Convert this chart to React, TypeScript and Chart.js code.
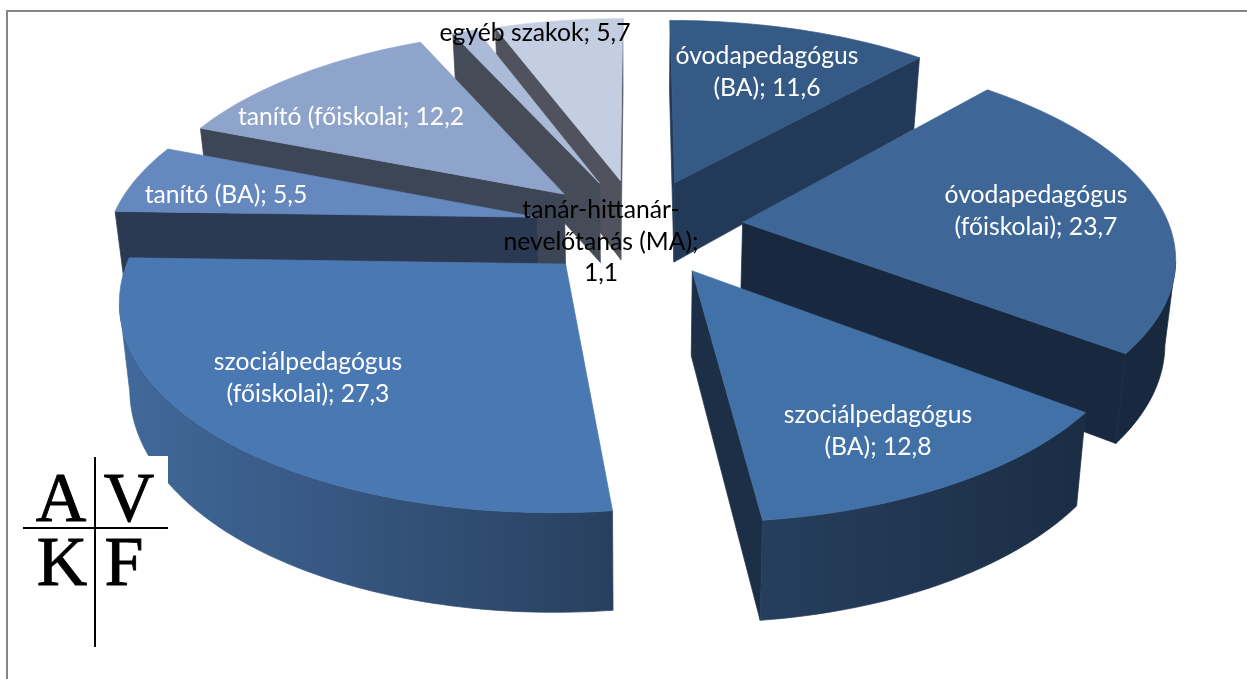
import React, { useEffect, useRef } from "react";
import { Chart, registerables } from "chart.js";

Chart.register(...registerables);

const categories = [
  "óvodapedagógus (BA)",
  "óvodapedagógus (főiskolai)",
  "szociálpedagógus (BA)",
  "szociálpedagógus (főiskolai)",
  "tanító (BA)",
  "tanító (főiskolai",
  "tanár-hittanár-nevelőtanás (MA)",
  "egyéb szakok",
];
const shares = [11.6, 23.7, 12.8, 27.3, 5.5, 12.2, 1.1, 5.7];
const labelLines = [
  ["óvodapedagógus", "(BA); 11,6"],
  ["óvodapedagógus", "(főiskolai); 23,7"],
  ["szociálpedagógus", "(BA); 12,8"],
  ["szociálpedagógus", "(főiskolai); 27,3"],
  ["tanító (BA); 5,5"],
  ["tanító (főiskolai; 12,2"],
  ["tanár-hittanár-", "nevelőtanás (MA);", "1,1"],
  ["egyéb szakok; 5,7"],
];
const labelCentres = [
  [767, 72], [1036, 211], [878, 431], [308, 378], [226, 195], [351, 117], [601, 242], [535, 33],
];
const labelColours = ["#fff", "#fff", "#fff", "#fff", "#fff", "#fff", "#000", "#000"];
const topColours = ["#355a86", "#3e6797", "#4271a7", "#4a78b3", "#6589be", "#8fa4cb", "#abbbd7", "#c4cee2"];
const faceColours = ["#223a58", "#18283f", "#1c2f47", "#2b4567", "#2b3a52", "#3d4656", "#454c57", "#50525e"];
const wallLeft = ["#223a58", "#18283f", "#263e5d", "#41699b", "#2b3a52", "#3d4656", "#454c57", "#50525e"];
const wallRight = ["#223a58", "#18283f", "#1b2d45", "#28405f", "#2b3a52", "#3d4656", "#454c57", "#50525e"];

const TILT = 0.466;
const PERSPECTIVE = 0.15;
const DEPTH = 82;
const CONVERGE = 0.02;
const RADIUS = 427;
const EXPLODE = 105;

const pie3d = {
  id: "pie3d",
  beforeDatasetsDraw(chart: any) {
    const ctx = chart.ctx;
    const meta = chart.getDatasetMeta(0);
    const project = (cx: number, cy: number, dx: number, dy: number, z: number) => {
      const s = 1 / (1 - (PERSPECTIVE * dy) / RADIUS);
      return [cx + dx * s * (1 - CONVERGE * z), cy + dy * TILT * s + z * DEPTH * s];
    };
    const order = meta.data
      .map((arc: any, i: number) => ({ arc, i }))
      .sort((a: any, b: any) => {
        const m = (e: any) => Math.sin((e.arc.startAngle + e.arc.endAngle) / 2);
        return m(a) - m(b);
      });
    for (const { arc, i } of order) {
      const { x, y, startAngle, endAngle, outerRadius } = arc.getProps(["x", "y", "startAngle", "endAngle", "outerRadius"], true);
      const mid = (startAngle + endAngle) / 2;
      const off = arc.options.offset;
      const ox = Math.cos(mid) * off;
      const oy = Math.sin(mid) * off;
      const steps = Math.max(4, Math.ceil((endAngle - startAngle) / 0.02));
      const rim: number[][] = [];
      for (let k = 0; k <= steps; k++) {
        const a = startAngle + ((endAngle - startAngle) * k) / steps;
        rim.push([ox + Math.cos(a) * outerRadius, oy + Math.sin(a) * outerRadius]);
      }
      const P = (p: number[], z: number) => project(x, y, p[0], p[1], z);
      const apex = [ox, oy];
      const fillPoly = (pts: number[][], style: any) => {
        ctx.beginPath();
        pts.forEach((p, n) => (n ? ctx.lineTo(p[0], p[1]) : ctx.moveTo(p[0], p[1])));
        ctx.closePath();
        ctx.fillStyle = style;
        ctx.fill();
        ctx.strokeStyle = style;
        ctx.lineWidth = 0.7;
        ctx.stroke();
      };
      const face = (a: number[], b: number[]) => {
        if (P(b, 0)[0] < P(a, 0)[0]) fillPoly([P(a, 0), P(b, 0), P(b, 1), P(a, 1)], faceColours[i]);
      };
      face(apex, rim[0]);
      face(rim[rim.length - 1], apex);
      const gx = rim.map((p) => P(p, 0)[0]);
      const grad = ctx.createLinearGradient(Math.min(...gx), 0, Math.max(...gx), 0);
      grad.addColorStop(0, wallLeft[i]);
      grad.addColorStop(1, wallRight[i]);
      let run: number[][] = [];
      const flush = () => {
        if (run.length > 1) {
          fillPoly([...run.map((p) => P(p, 0)), ...run.slice().reverse().map((p) => P(p, 1))], grad);
        }
        run = [];
      };
      for (let k = 0; k < rim.length - 1; k++) {
        if (P(rim[k + 1], 0)[0] < P(rim[k], 0)[0]) {
          if (!run.length) run.push(rim[k]);
          run.push(rim[k + 1]);
        } else flush();
      }
      flush();
      fillPoly([P(apex, 0), ...rim.map((p) => P(p, 0))], arc.options.backgroundColor);
    }
    return false;
  },
  afterDraw(chart: any) {
    const ctx = chart.ctx;
    ctx.save();
    // frame
    ctx.fillStyle = "#868686";
    ctx.fillRect(6, 10, 1241, 2);
    ctx.fillRect(6, 10, 2, 669);
    // labels
    ctx.font = "24.7px Lato";
    ctx.textAlign = "center";
    ctx.textBaseline = "middle";
    labelLines.forEach((lines, i) => {
      ctx.fillStyle = labelColours[i];
      const [lx, ly] = labelCentres[i];
      lines.forEach((t, n) => ctx.fillText(t, lx, ly + (n - (lines.length - 1) / 2) * 31.5));
    });
    // logo
    ctx.fillStyle = "#fff";
    ctx.fillRect(8, 456, 160, 195);
    ctx.fillStyle = "#000";
    ctx.strokeStyle = "#000";
    ctx.lineWidth = 0.9;
    ctx.font = '70px "Liberation Serif"';
    ctx.textBaseline = "alphabetic";
    const logo: [string, number, number][] = [["A", 61, 521], ["V", 129, 521], ["K", 62, 585], ["F", 124, 585]];
    logo.forEach(([t, lx, ly]) => {
      ctx.fillText(t, lx, ly);
      ctx.strokeText(t, lx, ly);
    });
    ctx.fillRect(23, 527, 145, 2);
    ctx.fillRect(94, 457, 2, 190);
    ctx.restore();
  },
};

export default function App() {
  const ref = useRef<HTMLCanvasElement>(null);
  useEffect(() => {
    document.body.style.margin = "0";
    const chart = new Chart(ref.current as HTMLCanvasElement, {
      type: "pie",
      data: {
        labels: categories,
        datasets: [
          {
            data: shares,
            backgroundColor: topColours,
            borderWidth: 0,
            offset: EXPLODE,
            radius: RADIUS,
          } as any,
        ],
      },
      options: {
        responsive: false,
        animation: false,
        layout: { padding: { left: 30, bottom: 225 } },
        plugins: { legend: { display: false }, tooltip: { enabled: false } },
      },
      plugins: [pie3d as any],
    });
    return () => chart.destroy();
  }, []);
  return (
    <div style={{ position: "fixed", left: 0, top: 0, width: 1247, height: 679, background: "#fff" }}>
      <canvas ref={ref} width={1247} height={679} style={{ display: "block" }} />
    </div>
  );
}
